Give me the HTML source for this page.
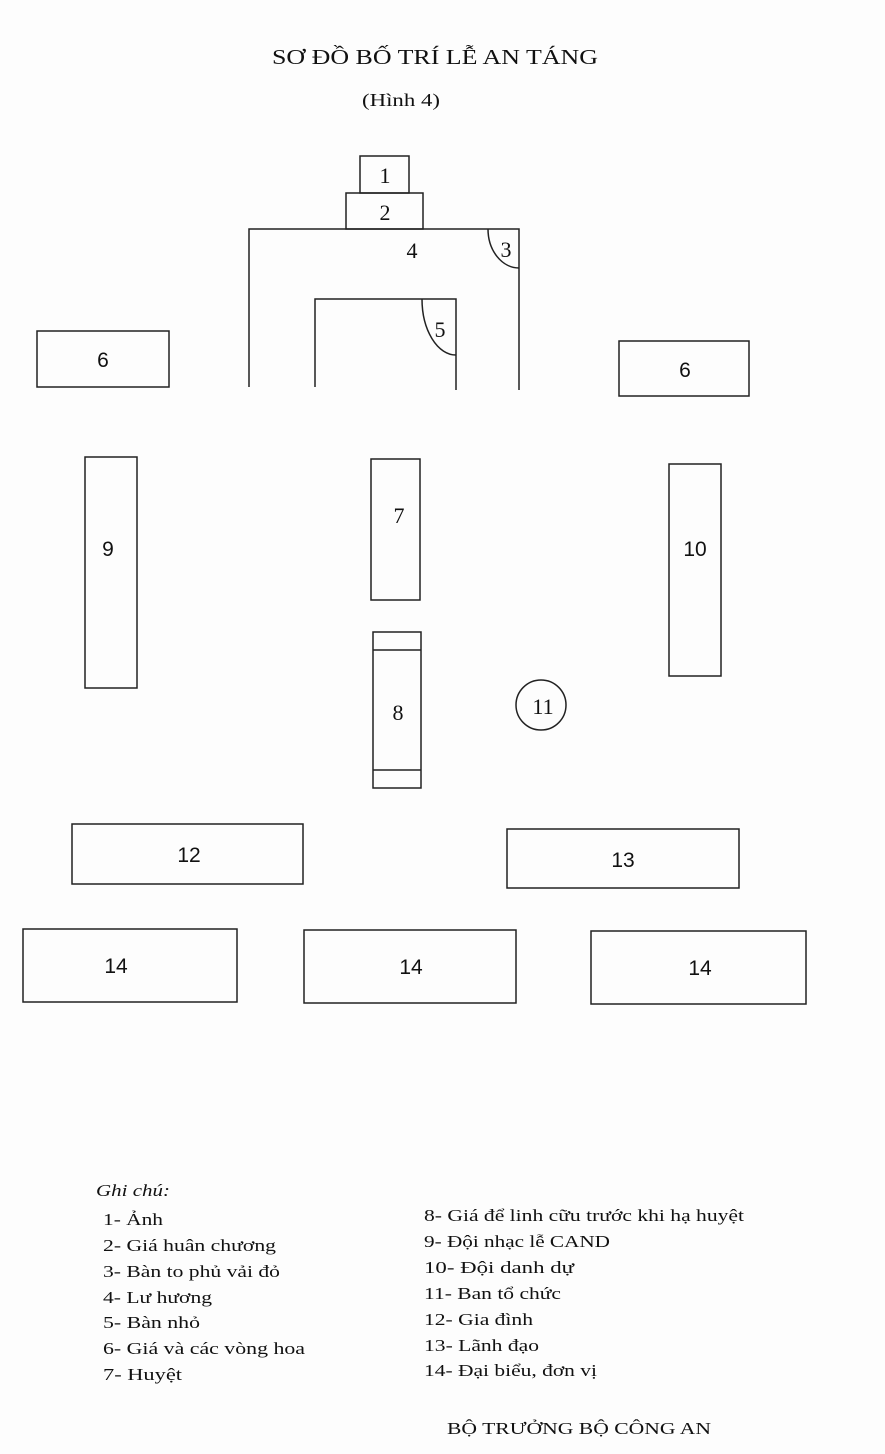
<!DOCTYPE html>
<html><head><meta charset="utf-8"><style>
html,body{margin:0;padding:0;background:#fff;}
svg{display:block}
</style></head><body>
<svg width="885" height="1454" viewBox="0 0 885 1454" xmlns="http://www.w3.org/2000/svg">
<rect width="885" height="1454" fill="#fdfdfd"/>
<g fill="none" stroke="#222" stroke-width="1.5">
<rect x="360" y="156" width="49" height="37"/>
<rect x="346" y="193" width="77" height="36"/>
<path d="M249 387 V229 H519 V390"/>
<path d="M488 229 A31 39 0 0 0 519 268"/>
<path d="M315 387 V299 H456 V390"/>
<path d="M422 299 A34 56 0 0 0 456 355"/>
<rect x="37" y="331" width="132" height="56"/>
<rect x="619" y="341" width="130" height="55"/>
<rect x="85" y="457" width="52" height="231"/>
<rect x="371" y="459" width="49" height="141"/>
<rect x="669" y="464" width="52" height="212"/>
<rect x="373" y="632" width="48" height="156"/>
<line x1="373" y1="650" x2="421" y2="650"/>
<line x1="373" y1="770" x2="421" y2="770"/>
<circle cx="541" cy="705" r="25"/>
<rect x="72" y="824" width="231" height="60"/>
<rect x="507" y="829" width="232" height="59"/>
<rect x="23" y="929" width="214" height="73"/>
<rect x="304" y="930" width="212" height="73"/>
<rect x="591" y="931" width="215" height="73"/>
</g>
<g font-family="Liberation Serif, serif" fill="#111" text-anchor="middle" font-size="22">
<text x="385" y="183">1</text>
<text x="385" y="220">2</text>
<text x="412" y="258">4</text>
<text x="506" y="257">3</text>
<text x="440" y="337">5</text>
<text x="399" y="523">7</text>
<text x="398" y="720">8</text>
<text x="543" y="714">11</text>
</g>
<g font-family="Liberation Serif, serif" fill="#111">
<text x="272" y="64" font-size="21" textLength="326" lengthAdjust="spacingAndGlyphs">SƠ ĐỒ BỐ TRÍ LỄ AN TÁNG</text>
<text x="362" y="106" font-size="18" textLength="78" lengthAdjust="spacingAndGlyphs">(Hình 4)</text>
</g>
<g font-family="Liberation Sans, sans-serif" fill="#111" text-anchor="middle" font-size="21">
<text x="103" y="367">6</text>
<text x="685" y="377">6</text>
<text x="108" y="556">9</text>
<text x="695" y="556">10</text>
<text x="189" y="862">12</text>
<text x="623" y="867">13</text>
<text x="116" y="973">14</text>
<text x="411" y="974">14</text>
<text x="700" y="975">14</text>
</g>
<g font-family="Liberation Serif, serif" fill="#111" font-size="17" lengthAdjust="spacingAndGlyphs">
<text x="96" y="1196" font-style="italic" textLength="74" lengthAdjust="spacingAndGlyphs">Ghi chú:</text>
<text x="103" y="1225" textLength="60" lengthAdjust="spacingAndGlyphs">1- Ảnh</text>
<text x="103" y="1251" textLength="173" lengthAdjust="spacingAndGlyphs">2- Giá huân chương</text>
<text x="103" y="1277" textLength="177" lengthAdjust="spacingAndGlyphs">3- Bàn to phủ vải đỏ</text>
<text x="103" y="1303" textLength="109" lengthAdjust="spacingAndGlyphs">4- Lư hương</text>
<text x="103" y="1328" textLength="97" lengthAdjust="spacingAndGlyphs">5- Bàn nhỏ</text>
<text x="103" y="1354" textLength="202" lengthAdjust="spacingAndGlyphs">6- Giá và các vòng hoa</text>
<text x="103" y="1380" textLength="79" lengthAdjust="spacingAndGlyphs">7- Huyệt</text>
<text x="424" y="1221" textLength="320" lengthAdjust="spacingAndGlyphs">8- Giá để linh cữu trước khi hạ huyệt</text>
<text x="424" y="1247" textLength="186" lengthAdjust="spacingAndGlyphs">9- Đội nhạc lễ CAND</text>
<text x="424" y="1273" textLength="150" lengthAdjust="spacingAndGlyphs">10- Đội danh dự</text>
<text x="424" y="1299" textLength="137" lengthAdjust="spacingAndGlyphs">11- Ban tổ chức</text>
<text x="424" y="1325" textLength="109" lengthAdjust="spacingAndGlyphs">12- Gia đình</text>
<text x="424" y="1351" textLength="115" lengthAdjust="spacingAndGlyphs">13- Lãnh đạo</text>
<text x="424" y="1376" textLength="173" lengthAdjust="spacingAndGlyphs">14- Đại biểu, đơn vị</text>
<text x="447" y="1434" textLength="264" lengthAdjust="spacingAndGlyphs">BỘ TRƯỞNG BỘ CÔNG AN</text>
</g>
</svg>
</body></html>
